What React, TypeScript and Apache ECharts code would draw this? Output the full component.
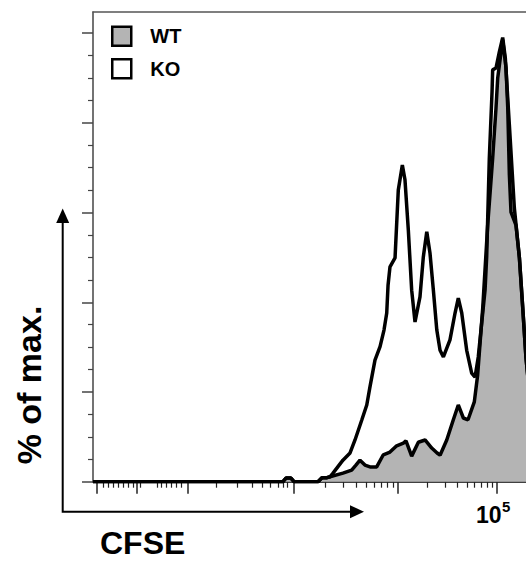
import React, { useEffect, useRef } from "react";
import * as echarts from "echarts";

// ---- data (x = display position on the biexponential CFSE axis, where 3 = 10^3, 5 = 10^5; y = % of max) ----
const seriesNames = ["WT", "KO"];

const wtTrace: [number, number][] = [
  [1.017, 0], [2.891, 0], [2.921, 0.8], [2.970, 0.8], [3.0, 0], [3.237, 0], [3.276, 0.9], [3.326, 0.9],
  [3.355, 1.1], [3.483, 1.9], [3.569, 2.6], [3.611, 3.7], [3.651, 4.8], [3.700, 3.7], [3.750, 3.3],
  [3.816, 3.3], [3.881, 6.0], [3.947, 6.6], [4.013, 8.0], [4.079, 8.6], [4.105, 9.1], [4.161, 5.7],
  [4.227, 8.8], [4.293, 9.3], [4.359, 7.5], [4.412, 6.4], [4.441, 5.9], [4.507, 9.3], [4.572, 13.8],
  [4.621, 17.1], [4.671, 14.2], [4.717, 13.8], [4.779, 17.8], [4.812, 23.8], [4.862, 38.7], [4.911, 57.2],
  [4.960, 72.1], [4.993, 83.3], [5.010, 90.0], [5.043, 95.8], [5.059, 98.5], [5.092, 92.2], [5.109, 83.3],
  [5.125, 68.4], [5.141, 60.1], [5.190, 57.2], [5.224, 49.9], [5.257, 38.7], [5.289, 27.6], [5.33, 18.2],
];

const koTrace: [number, number][] = [
  [1.017, 0], [2.891, 0], [2.921, 0.8], [2.970, 0.8], [3.0, 0], [3.237, 0], [3.276, 0.9], [3.326, 0.9],
  [3.355, 1.1], [3.385, 1.9], [3.483, 4.8], [3.553, 6.4], [3.602, 9.3], [3.668, 13.7], [3.718, 17.1],
  [3.750, 21.2], [3.799, 27.1], [3.849, 30.1], [3.888, 33.8], [3.915, 37.6], [3.928, 43.8], [3.947, 47.9],
  [3.997, 49.9], [4.029, 65.0], [4.069, 70.6], [4.095, 67.3], [4.128, 56.1], [4.161, 42.7], [4.194, 35.6],
  [4.243, 41.2], [4.276, 50.1], [4.310, 55.7], [4.342, 50.9], [4.375, 42.7], [4.409, 33.8], [4.441, 29.3],
  [4.474, 27.8], [4.539, 31.6], [4.589, 37.6], [4.621, 40.9], [4.655, 37.6], [4.704, 29.3], [4.753, 24.2],
  [4.786, 23.3], [4.818, 27.8], [4.852, 35.4], [4.885, 42.7], [4.901, 50.1], [4.927, 72.1], [4.954, 86.9],
  [4.960, 91.8], [4.993, 92.2], [5.026, 95.8], [5.059, 99.0], [5.085, 94.4], [5.125, 79.5], [5.174, 61.0],
  [5.224, 49.9], [5.257, 38.7], [5.289, 27.6], [5.33, 18.2],
];

const xMajorTicks = [1.056, 1.451, 1.951, 3.0, 4.023, 5.0];
const xMinorTicks = [
  1.115, 1.165, 1.214, 1.263, 1.313, 1.362, 1.411, 1.48,
  1.651, 1.695, 1.744, 1.793, 1.843, 1.892,
  2.237, 2.444, 2.592, 2.691, 2.763, 2.842, 2.891, 2.938,
  3.308, 3.488, 3.616, 3.715, 3.796, 3.865, 3.924, 3.976,
  4.317, 4.489, 4.611, 4.706, 4.783, 4.849, 4.905, 4.955,
];
const yMajorTicks = [0, 20, 40, 60, 80, 100];
const yMinorTicks = [5, 10, 15, 25, 30, 35, 45, 50, 55, 65, 70, 75, 85, 90, 95];

const xTitle = "CFSE";
const yTitle = "% of max.";
const decadeBase = "10";
const decadeExp = "5";

const X_MIN = 1.017;
const X_MAX = 5.289;
const Y_MAX = 104.7;

const FONT = "'Liberation Sans', Arial, Helvetica, sans-serif";
const GRAY = "#b4b4b4";

export default function App() {
  const ref = useRef<HTMLDivElement>(null);

  useEffect(() => {
    document.body.style.margin = "0";
    document.body.style.overflow = "hidden";
    if (!ref.current) return;
    const chart = echarts.init(ref.current, null, { renderer: "svg" });

    const hiddenLabel = { show: false };
    const xCommon = {
      type: "value" as const,
      min: X_MIN,
      max: X_MAX,
      splitLine: { show: false },
      axisLabel: hiddenLabel,
    };
    const yCommon = {
      type: "value" as const,
      min: 0,
      max: Y_MAX,
      splitLine: { show: false },
      axisLabel: hiddenLabel,
    };

    chart.setOption({
      animation: false,
      backgroundColor: "#ffffff",
      grid: { left: 93, top: 12, right: 0, bottom: 79.3, containLabel: false },
      legend: {
        orient: "vertical",
        left: 111,
        top: 25.5,
        padding: 0,
        itemWidth: 19,
        itemHeight: 19,
        itemGap: 11,
        selectedMode: false,
        textStyle: {
          fontFamily: FONT,
          fontSize: 20,
          fontWeight: "bold",
          color: "#000",
          padding: [0, 0, 0, 14],
        },
        data: [
          { name: seriesNames[0], icon: "rect", itemStyle: { color: GRAY, borderColor: "#000", borderWidth: 2.5 } },
          { name: seriesNames[1], icon: "rect", itemStyle: { color: "#fff", borderColor: "#000", borderWidth: 2.5 } },
        ],
      },
      xAxis: [
        {
          ...xCommon,
          position: "bottom",
          axisLine: { show: true, onZero: false, lineStyle: { color: "#000", width: 1.5 } },
          axisTick: { show: true, length: 12, customValues: xMajorTicks, lineStyle: { color: "#222", width: 1.5 } },
        },
        {
          ...xCommon,
          position: "bottom",
          axisLine: { show: false },
          axisTick: { show: true, length: 6, customValues: xMinorTicks, lineStyle: { color: "#222", width: 1.2 } },
        },
        {
          ...xCommon,
          position: "top",
          axisLine: { show: true, onZero: false, lineStyle: { color: "#555", width: 1.5 } },
          axisTick: { show: false },
        },
      ],
      yAxis: [
        {
          ...yCommon,
          position: "left",
          axisLine: { show: true, onZero: false, lineStyle: { color: "#444", width: 1.5 } },
          axisTick: { show: true, length: 11, customValues: yMajorTicks, lineStyle: { color: "#444", width: 1.5 } },
        },
        {
          ...yCommon,
          position: "left",
          axisLine: { show: false },
          axisTick: { show: true, length: 5, customValues: yMinorTicks, lineStyle: { color: "#444", width: 1.2 } },
        },
      ],
      series: [
        {
          name: seriesNames[0],
          type: "line",
          xAxisIndex: 0,
          yAxisIndex: 0,
          data: wtTrace,
          showSymbol: false,
          symbol: "none",
          smooth: false,
          clip: true,
          color: GRAY,
          lineStyle: { color: "#000", width: 3.5 },
          areaStyle: { color: GRAY, opacity: 1 },
          z: 2,
        },
        {
          name: seriesNames[1],
          type: "line",
          xAxisIndex: 0,
          yAxisIndex: 0,
          data: koTrace,
          showSymbol: false,
          symbol: "none",
          smooth: false,
          clip: true,
          color: "#000",
          lineStyle: { color: "#000", width: 3.5 },
          z: 3,
        },
      ],
      graphic: [
        {
          type: "polyline",
          shape: { points: [[62.7, 222], [62.7, 511.7], [351, 511.7]] },
          style: { stroke: "#000", lineWidth: 2, fill: null },
        },
        {
          type: "polygon",
          shape: { points: [[62.7, 208.5], [56.2, 223], [69.2, 223]] },
          style: { fill: "#000" },
        },
        {
          type: "polygon",
          shape: { points: [[364, 511.7], [350, 505.2], [350, 518.2]] },
          style: { fill: "#000" },
        },
        {
          type: "text",
          x: 29,
          y: 385,
          rotation: Math.PI / 2,
          style: {
            text: yTitle,
            font: `bold 34px ${FONT}`,
            fill: "#000",
            align: "center",
            verticalAlign: "middle",
          },
        },
        {
          type: "text",
          x: 100,
          y: 543,
          style: {
            text: xTitle,
            font: `bold 32px ${FONT}`,
            fill: "#000",
            align: "left",
            verticalAlign: "middle",
          },
        },
        {
          type: "text",
          x: 476,
          y: 514.5,
          style: {
            text: decadeBase,
            font: `bold 23px ${FONT}`,
            fill: "#000",
            align: "left",
            verticalAlign: "middle",
          },
        },
        {
          type: "text",
          x: 502,
          y: 506.5,
          style: {
            text: decadeExp,
            font: `bold 15px ${FONT}`,
            fill: "#000",
            align: "left",
            verticalAlign: "middle",
          },
        },
      ],
    });

    return () => chart.dispose();
  }, []);

  return (
    <div
      ref={ref}
      style={{ position: "absolute", left: 0, top: 0, width: 526, height: 561 }}
    />
  );
}
